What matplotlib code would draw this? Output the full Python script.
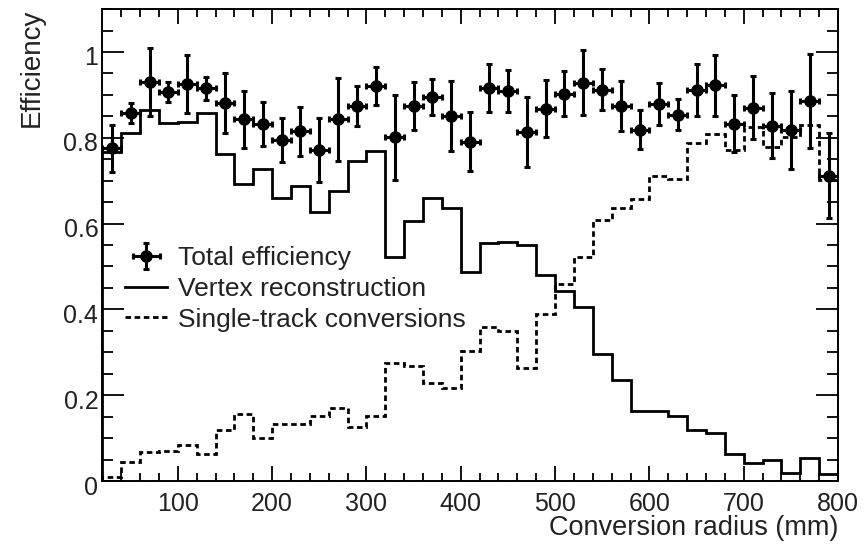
import numpy as np
import matplotlib.pyplot as plt
from matplotlib.ticker import MultipleLocator, FormatStrFormatter
from matplotlib.transforms import ScaledTranslation

plt.rcParams['font.family'] = ['Liberation Sans', 'DejaVu Sans']

# bin edges (mm), 20 mm bins from 20 to 800
edges = np.arange(20, 801, 20)
centers = edges[:-1] + 10

total_eff = [0.775, 0.858, 0.930, 0.907, 0.926, 0.915, 0.881, 0.843, 0.832, 0.795,
             0.815, 0.771, 0.843, 0.874, 0.921, 0.801, 0.874, 0.894, 0.851, 0.791,
             0.915, 0.909, 0.814, 0.868, 0.903, 0.928, 0.912, 0.874, 0.819, 0.878,
             0.854, 0.911, 0.922, 0.833, 0.870, 0.828, 0.818, 0.886, 0.712]
total_err = [0.055, 0.024, 0.080, 0.023, 0.068, 0.027, 0.069, 0.066, 0.051, 0.051,
             0.057, 0.075, 0.097, 0.047, 0.045, 0.099, 0.056, 0.042, 0.081, 0.068,
             0.056, 0.048, 0.081, 0.067, 0.052, 0.076, 0.048, 0.059, 0.045, 0.049,
             0.037, 0.061, 0.072, 0.067, 0.074, 0.076, 0.090, 0.109, 0.098]

vertex_reco = [0.767, 0.812, 0.864, 0.835, 0.836, 0.858, 0.762, 0.692, 0.727, 0.659,
               0.688, 0.628, 0.676, 0.746, 0.770, 0.522, 0.605, 0.659, 0.636, 0.488,
               0.554, 0.557, 0.550, 0.481, 0.442, 0.405, 0.295, 0.236, 0.163, 0.163,
               0.151, 0.120, 0.112, 0.064, 0.043, 0.050, 0.018, 0.054, 0.016]

single_track = [0.010, 0.044, 0.067, 0.070, 0.085, 0.062, 0.120, 0.157, 0.101, 0.134,
                0.132, 0.151, 0.171, 0.126, 0.151, 0.274, 0.267, 0.229, 0.217, 0.302,
                0.359, 0.349, 0.264, 0.390, 0.460, 0.522, 0.609, 0.637, 0.657, 0.712,
                0.705, 0.787, 0.808, 0.771, 0.826, 0.779, 0.802, 0.829, 0.702]

text_col = '#222222'

fig = plt.figure(figsize=(8.68, 5.45), dpi=100)
ax = fig.add_axes([0.118, 0.1174, 0.8474, 0.866])

ax.stairs(vertex_reco, edges, color='black', lw=2.0, label='Vertex reconstruction')
ax.stairs(single_track, edges, color='black', lw=2.0, linestyle=(0, (2, 1.3)),
          label='Single-track conversions')
ax.errorbar(centers, total_eff, yerr=total_err, xerr=10, fmt='o', color='black',
            ms=8, elinewidth=2.2, capsize=2.5, capthick=2.2, lw=2.2,
            label='Total efficiency')

ax.set_xlim(20, 800)
ax.set_ylim(0, 1.1)

ax.xaxis.set_major_locator(MultipleLocator(100))
ax.xaxis.set_minor_locator(MultipleLocator(20))
ax.yaxis.set_major_locator(MultipleLocator(0.2))
ax.yaxis.set_minor_locator(MultipleLocator(0.05))
ax.yaxis.set_major_formatter(FormatStrFormatter('%g'))

ax.tick_params(axis='both', which='both', direction='in', top=True, right=True,
               width=1.3, colors='black', labelcolor=text_col, labelsize=18)
ax.tick_params(axis='x', which='major', length=11, pad=8)
ax.tick_params(axis='x', which='minor', length=5.5)
ax.tick_params(axis='y', which='major', length=16, pad=3)
ax.tick_params(axis='y', which='minor', length=8)
for s in ax.spines.values():
    s.set_linewidth(1.4)

# y tick labels sit a little below their ticks in the original
shift = ScaledTranslation(0, -4 / 100, fig.dpi_scale_trans)
for lab in ax.get_yticklabels():
    lab.set_transform(lab.get_transform() + shift)

ax.set_xlabel('Conversion radius (mm)', loc='right', fontsize=19.5, color=text_col)
ax.xaxis.set_label_coords(1.0, -0.071)
ax.set_ylabel('Efficiency', loc='top', fontsize=20, color=text_col)
ax.yaxis.set_label_coords(-0.078, 1.0)

h, l = ax.get_legend_handles_labels()
order = [2, 0, 1]
leg = ax.legend([h[i] for i in order], [l[i] for i in order], loc='upper left',
                bbox_to_anchor=(0.031, 0.497), frameon=False, fontsize=19,
                handlelength=1.6, handletextpad=0.4, labelspacing=0.25,
                borderpad=0, borderaxespad=0)
for t in leg.get_texts():
    t.set_color(text_col)

fig.savefig('out.png', dpi=100)
